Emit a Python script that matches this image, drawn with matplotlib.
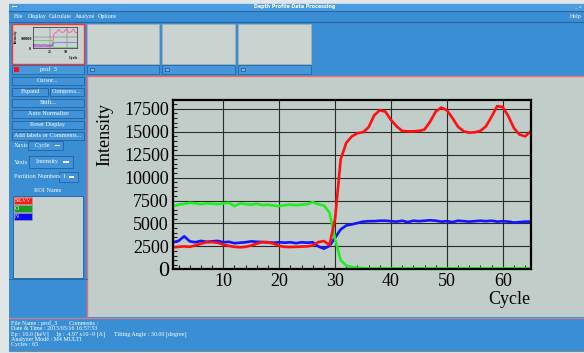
import numpy as np
import matplotlib.pyplot as plt
from matplotlib.patches import Rectangle
from matplotlib.ticker import MultipleLocator

# data (cycle 1..65)
cycles = list(range(1, 66))
silvv = [2400, 2450, 2500, 2450, 2600, 2800, 2950, 2970, 2900, 2700,
         2550, 2450, 2400, 2450, 2600, 2800, 2970, 2950, 2800, 2550,
         2450, 2430, 2450, 2480, 2500, 2600, 2970, 3080, 2650, 5500,
         12000, 13800, 14500, 14850, 14950, 15500, 16800, 17350, 17200, 16300,
         15600, 15100, 15050, 15050, 15100, 15250, 16100, 17200, 17650, 17350,
         16500, 15550, 15050, 14900, 14950, 15100, 15600, 16650, 17800, 17700,
         16700, 15400, 14700, 14500, 15050]
oxygen = [6850, 7050, 7150, 7250, 7200, 7100, 7200, 7150, 7100, 7200,
          7250, 6900, 7200, 7100, 7050, 7150, 7000, 7050, 6950, 6900,
          7000, 7050, 7000, 7050, 7100, 7320, 7100, 6960, 6200, 3300,
          1000, 400, 250, 160, 120, 100, 100, 100, 100, 100,
          100, 100, 100, 100, 100, 100, 100, 100, 100, 100,
          100, 100, 100, 100, 100, 100, 100, 100, 100, 100,
          100, 100, 100, 100, 100]
nitrogen = [2950, 3100, 3600, 3050, 2950, 3100, 3000, 3050, 3100, 2950,
            3000, 2850, 2900, 2950, 3050, 3000, 2970, 2950, 2900, 2950,
            2900, 2950, 2850, 2950, 2900, 2950, 2500, 2250, 2550, 3450,
            4350, 4780, 4900, 5050, 5200, 5250, 5250, 5300, 5300, 5250,
            5200, 5300, 5150, 5300, 5250, 5300, 5350, 5300, 5200, 5250,
            5150, 5300, 5250, 5200, 5250, 5300, 5250, 5300, 5200, 5250,
            5200, 5100, 5150, 5200, 5200]
ytick_vals = [0, 2500, 5000, 7500, 10000, 12500, 15000, 17500]
xtick_vals = [10, 20, 30, 40, 50, 60]

W, H = 584, 353
BLUE = '#3a8ed4'
DARK = '#2767a6'
GRAY = '#c1cdc9'
RED_LINE = '#f26a6a'
GUI_FONT = 'Liberation Serif'

fig = plt.figure(figsize=(W / 100, H / 100), dpi=100, facecolor='#e2e6e6')
bg = fig.add_axes([0, 0, 1, 1])
bg.set_xlim(0, W)
bg.set_ylim(H, 0)
bg.axis('off')


def rect(x0, y0, x1, y1, fc, ec='none', lw=0.8, z=1):
    bg.add_patch(Rectangle((x0, y0), x1 - x0, y1 - y0, facecolor=fc,
                           edgecolor=ec, linewidth=lw, zorder=z))


def label(x, y, s, size=4.6, color='white', ha='left', **kw):
    bg.text(x, y, s, fontsize=size, color=color, ha=ha, va='center',
            family=GUI_FONT, zorder=5, **kw)


# window
rect(9, 3, W, 351, BLUE)
rect(9, 3, W, 10.5, '#4b9de2')
bg.plot([9, W], [3.3, 3.3], color='#dfe8f0', lw=0.6, zorder=2)
bg.plot([9, W], [10.8, 10.8], color=DARK, lw=0.8, zorder=2)
bg.plot([9, W], [22.3, 22.3], color=DARK, lw=0.8, zorder=2)
bg.text(295, 6.9, 'Depth Profile Data Processing', fontsize=3.4, color='white', ha='center',
        va='center', family='DejaVu Sans', weight='bold', zorder=5)
rect(12, 5.5, 17, 6.8, 'white', z=3)
label(574, 6.5, '_  x', size=3.6)
for x, s in [(14, 'File'), (28, 'Display'), (49, 'Calculate'), (75, 'Analyze'), (98, 'Options')]:
    label(x, 16.7, s, size=4.3)
label(582, 16.7, 'Help', size=4.3, ha='right')

# thumbnails
thumbs = [(12, 84), (87, 159), (162, 235), (238, 311)]
for i, (a, b) in enumerate(thumbs):
    rect(a, 23.5, b, 63.5, '#cad3d0', ec='#ff3030' if i == 0 else '#9fb0b8', lw=1.0 if i == 0 else 0.6, z=2)
    rect(a, 65, b, 73.5, '#4696da', ec=DARK, lw=0.6, z=2)
    if i == 0:
        rect(14, 67, 18.5, 71.5, '#ff1010', z=3)
        label(48, 69.3, 'prof  3', size=4.5, ha='center')
    else:
        rect(a + 3, 67.5, a + 6.5, 71, '#7fb5e6', ec='#1b4f85', lw=0.5, z=3)

# thumbnail mini chart
mini = fig.add_axes([33 / W, 1 - 48 / H, 44 / W, 21 / H], facecolor='#cad3d0')
mini.plot(cycles, silvv, color='#ff4fa0', lw=0.6)
mini.plot(cycles, oxygen, color='#4ccf4c', lw=0.5)
mini.plot(cycles, nitrogen, color='#6060ff', lw=0.5)
mini.plot(cycles[:30], [v * 0.55 for v in silvv[:30]], color='#b050d0', lw=0.5)
mini.set_xlim(1, 65)
mini.set_ylim(0, 20000)
mini.set_xticks([25, 50])
mini.set_yticks([0, 10000])
mini.grid(True, color='#606060', lw=0.3)
mini.tick_params(length=0, labelbottom=False, labelleft=False)
for sp in mini.spines.values():
    sp.set_linewidth(0.4)
label(21, 39.5, '100000', size=2.8, color='black', weight='bold')
label(29, 48.5, '0', size=2.8, color='black', weight='bold')
label(50, 52, '25', size=2.8, color='black', weight='bold', ha='center')
label(66, 52, '50', size=2.8, color='black', weight='bold', ha='center')
label(73, 58.5, 'Cycle', size=2.8, color='black', weight='bold', ha='center')
bg.text(15.5, 36, 'Intensity', fontsize=2.6, rotation=90, ha='center', va='center',
        family=GUI_FONT, weight='bold', zorder=5)

# main panel
rect(87, 76, W, 317, GRAY, z=1)
bg.plot([87, W], [76, 76], color=RED_LINE, lw=1.0, zorder=2)
bg.plot([87, 87], [76, 317], color=RED_LINE, lw=1.0, zorder=2)


# left control panel
def button(x0, y0, x1, y1, s):
    rect(x0, y0, x1, y1, '#4292d8', ec=DARK, lw=0.7, z=2)
    label((x0 + x1) / 2, (y0 + y1) / 2, s, size=4.5, ha='center')


button(12, 77, 84, 84.5, 'Cursor...')
button(12, 87.5, 48, 95.5, 'Expand')
button(50, 87.5, 84, 95.5, 'Compress...')
button(12, 98.5, 84, 106.5, 'Shift...')
button(12, 109.5, 84, 117.5, 'Auto Normalize')
button(12, 120.5, 84, 128.5, 'Reset Display')
button(12, 131.5, 84, 139.5, 'Add labels or Comments...')

label(14, 145.5, 'Xaxis', size=4.5)
button(28, 141, 63, 150, 'Cycle    ')
rect(55, 145, 60, 146.3, 'white', z=3)
label(14, 162, 'Yaxis', size=4.5)
button(29, 156, 73, 167.5, 'Intensity     ')
rect(63, 161.3, 69, 162.7, 'white', z=3)
label(14, 177, 'Partition Numbers', size=4.5)
button(59, 172, 78, 181.5, '1     ')
rect(69, 176.2, 74, 177.5, 'white', z=3)
label(48, 191, 'ROI Name', size=4.5, ha='center')

rect(13, 196, 82.5, 277.5, '#c6d0cc', ec=DARK, lw=0.7, z=2)
for y0, fc, s in [(197, '#ff1a1a', 'SiLVV'), (205, '#1e9a1e', 'O'), (213, '#0a0aee', 'N')]:
    rect(14, y0, 31.5, y0 + 6.5, fc, ec='#a0a0a0', lw=0.4, z=3)
    label(15, y0 + 3.3, s, size=4.2)
bg.plot([9, 87], [279, 279], color=DARK, lw=0.6, zorder=2)

# bottom info area
bg.plot([9, W], [317.5, 317.5], color='#e07a8a', lw=0.8, zorder=2)
info = ['File Name : prof_3        Comments :',
        'Date & Time : 2015/05/16 16:57:53',
        'Ep : 10.0 [keV]     Ip :  4.97 x10 -9 [A]      Tilting Angle : 30.00 [degree]',
        'Analyzer Mode : M4 MULTI',
        'Cycles : 65']
for k, s in enumerate(info):
    label(11, 323 + k * 5.4, s, size=4.3)
bg.plot([9, W], [350.5, 350.5], color='#7a8a90', lw=0.8, zorder=2)

# main chart
ax = fig.add_axes([173 / W, 1 - 269.3 / H, (530.7 - 173) / W, (269.3 - 100) / H])
ax.set_facecolor(GRAY)
ax.plot(cycles, nitrogen, color='#1414ff', lw=1.9, zorder=3)
ax.plot(cycles, oxygen, color='#1ef01e', lw=1.9, zorder=3)
ax.plot(cycles, silvv, color='#ff1010', lw=1.9, zorder=4)
ax.set_xlim(1, 65)
ax.set_ylim(0, 18470)
ax.set_xticks(xtick_vals)
ax.set_yticks(ytick_vals)
ax.xaxis.set_minor_locator(MultipleLocator(2))
ax.yaxis.set_minor_locator(MultipleLocator(500))
ax.grid(True, which='major', color='#2a2a2a', lw=0.8)
ax.tick_params(which='major', length=0, pad=3, labelsize=13)
ax.tick_params(which='minor', direction='in', length=3, width=0.8, color='#202020')
for t in ax.get_xticklabels() + ax.get_yticklabels():
    t.set_family('Liberation Serif')
ax.get_yticklabels()[0].set_fontsize(16)
for sp in ax.spines.values():
    sp.set_linewidth(1.6)
    sp.set_zorder(5)

bg.text(105, 134, 'Intensity', fontsize=13, rotation=90, ha='center', va='center',
        family='Liberation Serif', zorder=5)
bg.text(509, 300, 'Cycle', fontsize=13, ha='center', va='center',
        family='Liberation Serif', zorder=5)

fig.savefig('out.png', dpi=100, facecolor=fig.get_facecolor())
